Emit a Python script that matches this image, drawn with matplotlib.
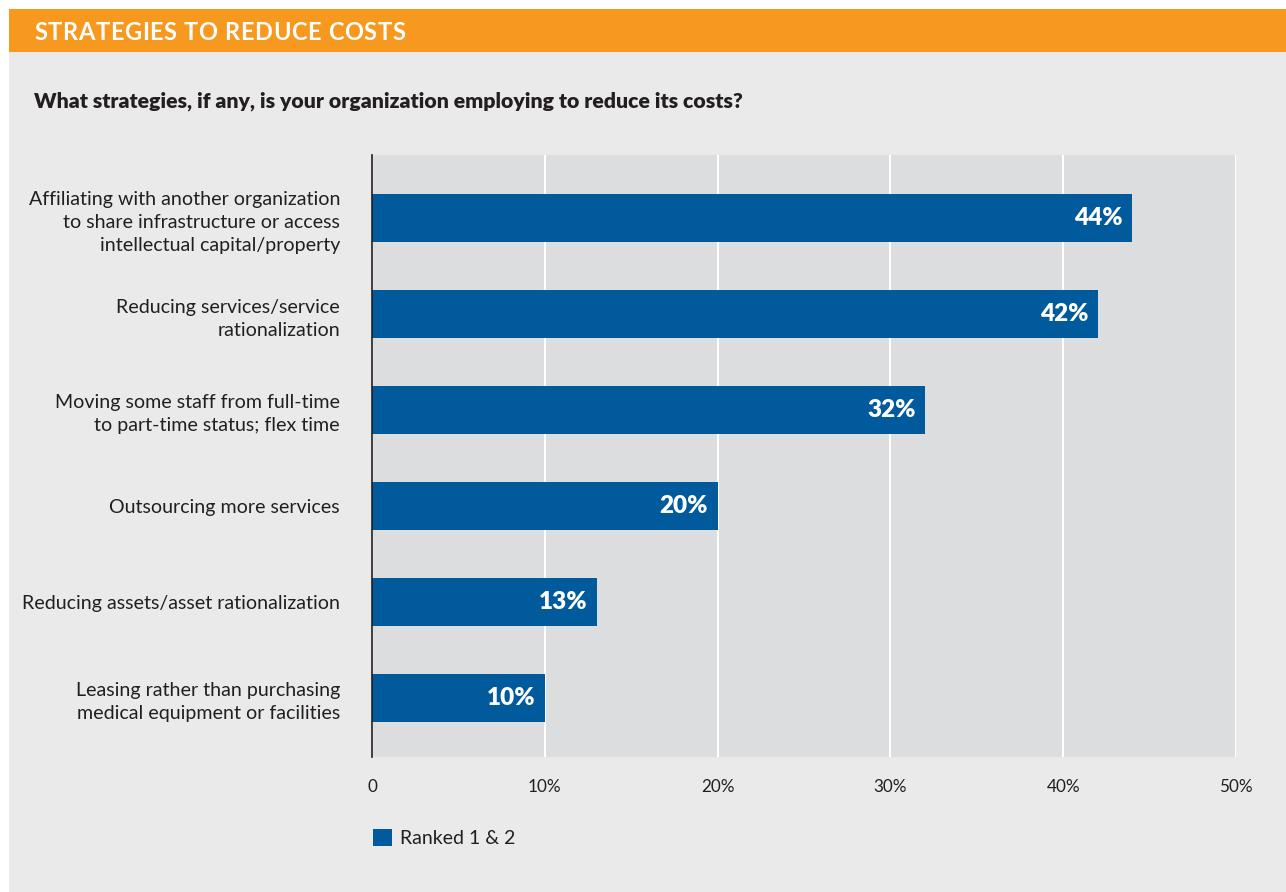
import matplotlib
matplotlib.use('Agg')
import matplotlib.pyplot as plt
from matplotlib.patches import Rectangle

plt.rcParams['font.family'] = ['Lato', 'DejaVu Sans']

ORANGE = '#F7981F'
PANEL_BG = '#EAEAEA'
PLOT_BG = '#DCDDDF'
BAR_BLUE = '#005A9C'
TEXT = '#231F20'

strategies = [
    'Affiliating with another organization\nto share infrastructure or access\nintellectual capital/property',
    'Reducing services/service\nrationalization',
    'Moving some staff from full-time\nto part-time status; flex time',
    'Outsourcing more services',
    'Reducing assets/asset rationalization',
    'Leasing rather than purchasing\nmedical equipment or facilities',
]
ranked_1_2 = [44, 42, 32, 20, 13, 10]
x_ticks = [0, 10, 20, 30, 40, 50]
x_tick_labels = ['0', '10%', '20%', '30%', '40%', '50%']

W, H = 1286, 892
fig = plt.figure(figsize=(W / 100, H / 100), dpi=100)
fig.patch.set_facecolor('white')

# grey panel and orange header band (kept beneath the axes)
fig.patches.append(Rectangle((9 / W, 0), 1 - 9 / W, 1 - 52 / H,
                             transform=fig.transFigure, facecolor=PANEL_BG, edgecolor='none', zorder=-2))
fig.patches.append(Rectangle((9 / W, 1 - 52 / H), 1 - 9 / W, 43 / H,
                             transform=fig.transFigure, facecolor=ORANGE, edgecolor='none', zorder=-2))

# header in tracked capitals: place letters one by one
header = 'STRATEGIES TO REDUCE COSTS'
renderer = fig.canvas.get_renderer()
x_px = 34
for ch in header:
    t = fig.text(x_px / W, 1 - 32 / H, ch, color='white', fontsize=17,
                 fontweight='bold', va='center', ha='left')
    if ch == ' ':
        x_px += 6.5
    else:
        x_px += t.get_window_extent(renderer).width + 0.6

fig.text(34 / W, 1 - 101 / H, 'What strategies, if any, is your organization employing to reduce its costs?',
         color=TEXT, fontsize=15.3, fontweight='heavy', va='center', ha='left')

ax_left, ax_right, ax_top, ax_bot = 372, 1236, 155, 757
ax = fig.add_axes([ax_left / W, 1 - ax_bot / H, (ax_right - ax_left) / W, (ax_bot - ax_top) / H])
ax.set_facecolor(PLOT_BG)

ypos = list(range(len(strategies)))
ax.barh(ypos, ranked_1_2, height=0.5, color=BAR_BLUE, zorder=3, label='Ranked 1 & 2')
for y, v in zip(ypos, ranked_1_2):
    ax.text(v - 0.55, y, f'{v}%', color='white', fontsize=17.5, fontweight='heavy',
            ha='right', va='center', zorder=4)

ax.set_xlim(0, 50)
ax.set_ylim(5.62, -0.66)
ax.set_xticks(x_ticks)
ax.set_xticklabels(x_tick_labels, fontsize=12.3, color=TEXT)
ax.set_yticks(ypos)
ax.set_yticklabels(strategies, fontsize=14.1, color=TEXT, linespacing=1.42)
ax.tick_params(axis='both', length=0)
ax.tick_params(axis='x', pad=16)
ax.tick_params(axis='y', pad=23)
ax.xaxis.grid(True, color='white', linewidth=1.5, zorder=1)
ax.set_axisbelow(True)
for side in ['top', 'right', 'bottom']:
    ax.spines[side].set_visible(False)
ax.spines['left'].set_color(TEXT)
ax.spines['left'].set_linewidth(1.2)
ax.spines['left'].set_zorder(5)

fig.legend(loc='center left', bbox_to_anchor=(355 / W, 1 - 838 / H), frameon=False,
           fontsize=14, handlelength=1.0, handleheight=1.0, handletextpad=0.4,
           labelcolor=TEXT)

fig.savefig('out.png', dpi=100, facecolor=fig.get_facecolor())
